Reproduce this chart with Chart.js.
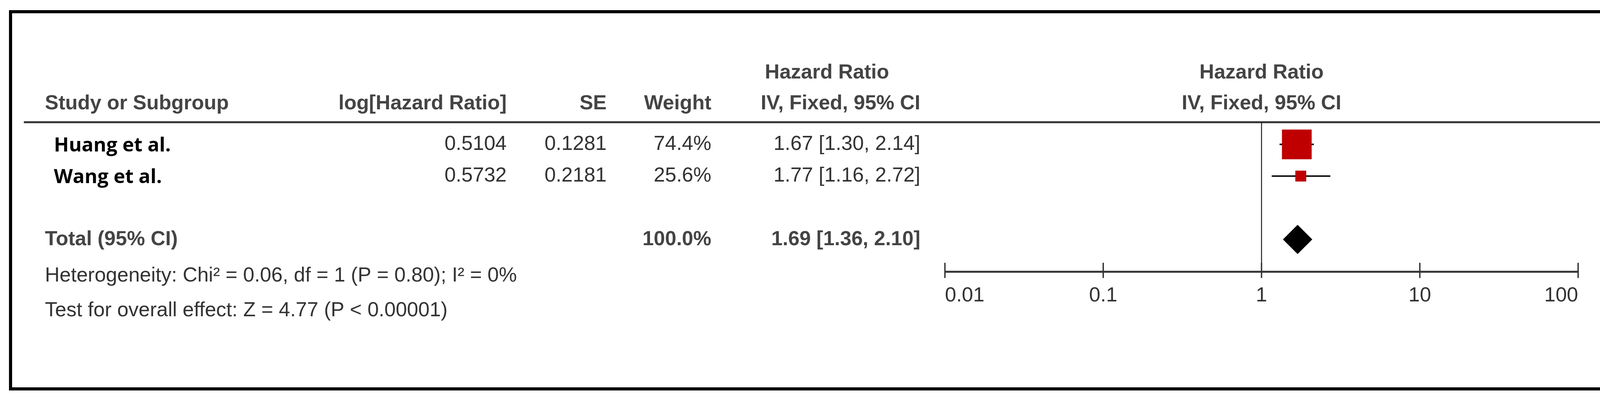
<!DOCTYPE html>
<html>
<head>
<meta charset="utf-8">
<script src="https://cdn.jsdelivr.net/npm/chart.js@4.4.1/dist/chart.umd.min.js"></script>
<style>
  html, body { margin: 0; background: #fff; overflow: hidden; }
  #wrap { width: 4142px; height: 1027px; position: relative; }
</style>
</head>
<body>
<div id="wrap"><canvas id="forest"></canvas></div>
<script>
// study data
const studies = ["Huang et al.", "Wang et al."];
const logHR = ["0.5104", "0.5732"];
const seText = ["0.1281", "0.2181"];
const weights = [74.4, 25.6];
const hr = [1.67, 1.77];
const lower = [1.30, 1.16];
const upper = [2.14, 2.72];
const totalHR = 1.69;
const totalLow = 1.36;
const totalHigh = 2.10;
const axisTicks = [0.01, 0.1, 1, 10, 100];
const hetText = "Heterogeneity: Chi\u00b2 = 0.06, df = 1 (P = 0.80); I\u00b2 = 0%";
const testText = "Test for overall effect: Z = 4.77 (P < 0.00001)";

const rowOf = i => i + 1;   // study rows
const totalRow = 4;

const fmt = v => v.toFixed(2);
const ciText = i => fmt(hr[i]) + " [" + fmt(lower[i]) + ", " + fmt(upper[i]) + "]";

const datasets = [];
studies.forEach((s, i) => {
    datasets.push({
        type: "line",
        data: [{ x: lower[i], y: rowOf(i) }, { x: upper[i], y: rowOf(i) }],
        borderColor: "#111", borderWidth: 4, pointRadius: 0, order: 2
    });
});
datasets.push({
    type: "scatter",
    data: studies.map((s, i) => ({ x: hr[i], y: rowOf(i) })),
    pointStyle: "rect",
    pointRadius: weights.map(w => 0.7 * w + 1),
    backgroundColor: "#c00000", borderColor: "#b00000", borderWidth: 1, order: 1
});
// pooled estimate diamond
datasets.push({
    type: "scatter",
    data: [{ x: totalHR, y: totalRow }],
    pointStyle: "rectRot",
    pointRadius: 37,
    backgroundColor: "#000", borderColor: "#000", borderWidth: 1, order: 1
});

const tablePlugin = {
    id: "table",
    beforeDraw(chart) {
        const c = chart.ctx;
        const xs = chart.scales.x, ys = chart.scales.y;
        c.save();
        c.fillStyle = "#fff";
        c.fillRect(0, 0, chart.width, chart.height);
        // frame
        c.strokeStyle = "#000"; c.lineWidth = 8;
        c.strokeRect(27, 30, 4104, 966);
        // header rule
        c.strokeStyle = "#333"; c.lineWidth = 5;
        c.beginPath(); c.moveTo(61, 313); c.lineTo(4096, 313); c.stroke();
        // line of no effect
        const x1 = xs.getPixelForValue(1);
        c.strokeStyle = "#222"; c.lineWidth = 2.5;
        c.beginPath(); c.moveTo(x1, 313); c.lineTo(x1, 696); c.stroke();
        // axis
        const ax0 = xs.getPixelForValue(axisTicks[0]);
        const ax1 = xs.getPixelForValue(axisTicks[axisTicks.length - 1]);
        c.strokeStyle = "#333"; c.lineWidth = 5;
        c.beginPath(); c.moveTo(ax0, 696); c.lineTo(ax1, 696); c.stroke();
        c.lineWidth = 3.5;
        c.font = "52px 'Liberation Sans', Arial, sans-serif";
        c.fillStyle = "#333"; c.textBaseline = "alphabetic";
        axisTicks.forEach((t, k) => {
            const px = xs.getPixelForValue(t);
            c.beginPath(); c.moveTo(px, 673); c.lineTo(px, 712); c.stroke();
            c.textAlign = k === 0 ? "left" : (k === axisTicks.length - 1 ? "right" : "center");
            c.fillText(String(t), px, 772);
        });

        const reg = "52px 'Liberation Sans', Arial, sans-serif";
        const bold = "bold 52px 'Liberation Sans', Arial, sans-serif";
        const txt = (s, x, y, align, font, col) => {
            c.font = font; c.textAlign = align; c.fillStyle = col; c.textBaseline = "middle";
            c.fillText(s, x, y);
        };
        // headers
        const hcol = "#444";
        txt("Hazard Ratio", 2117, 187, "center", bold, hcol);
        txt("Hazard Ratio", x1, 187, "center", bold, hcol);
        txt("Study or Subgroup", 115, 266, "left", bold, hcol);
        txt("log[Hazard Ratio]", 1297, 266, "right", bold, hcol);
        txt("SE", 1553, 266, "right", bold, hcol);
        txt("Weight", 1821, 266, "right", bold, hcol);
        txt("IV, Fixed, 95% CI", 2356, 266, "right", bold, hcol);
        txt("IV, Fixed, 95% CI", x1, 266, "center", bold, hcol);
        // rows
        studies.forEach((s, i) => {
            const y = ys.getPixelForValue(rowOf(i));
            txt(s, 138, y + 4, "left", "bold 50px 'Open Sans', sans-serif", "#000");
            txt(logHR[i], 1297, y, "right", reg, "#333");
            txt(seText[i], 1553, y, "right", reg, "#333");
            txt(weights[i].toFixed(1) + "%", 1821, y, "right", reg, "#333");
            txt(ciText(i), 2356, y, "right", reg, "#333");
        });
        const yt = ys.getPixelForValue(totalRow);
        txt("Total (95% CI)", 115, yt, "left", bold, hcol);
        txt(weights.reduce((a, b) => a + b, 0).toFixed(1) + "%", 1821, yt, "right", bold, hcol);
        txt(fmt(totalHR) + " [" + fmt(totalLow) + ", " + fmt(totalHigh) + "]", 2356, yt, "right", bold, hcol);
        txt(hetText, 115, 707, "left", reg, "#333");
        txt(testText, 115, 796, "left", reg, "#333");
        c.restore();
    }
};

new Chart(document.getElementById("forest"), {
    data: { datasets: datasets },
    options: {
        responsive: true,
        maintainAspectRatio: false,
        animation: false,
        layout: { padding: { left: 2419, right: 102, top: 313, bottom: 331 } },
        plugins: { legend: { display: false }, tooltip: { enabled: false } },
        scales: {
            x: { type: "logarithmic", min: 0.01, max: 100, display: false },
            y: { type: "linear", min: 0.3, max: 5.02, reverse: true, display: false }
        }
    },
    plugins: [tablePlugin]
});
</script>
</body>
</html>
